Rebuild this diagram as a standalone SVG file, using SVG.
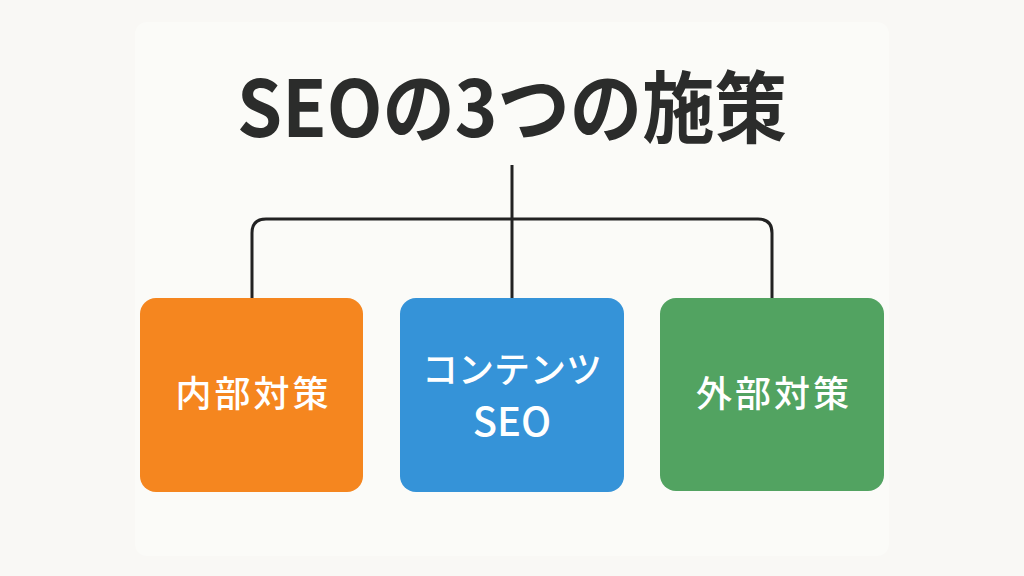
<svg xmlns="http://www.w3.org/2000/svg" width="1024" height="576" viewBox="0 0 1024 576">
<style>
.title{font-family:"Noto Sans CJK JP","Noto Sans",sans-serif;font-weight:700;font-size:78px;fill:#2b2c2b}
.lbl{font-family:"Noto Sans CJK JP","Noto Sans",sans-serif;font-weight:500;font-size:36px;fill:#ffffff}
.lbl.big{font-size:40px}
.conn{fill:none;stroke:#222222;stroke-width:3;stroke-linejoin:round}
</style>
<rect x="0" y="0" width="1024" height="576" fill="#f9f8f5"/>
<rect x="135" y="22" width="754" height="534" rx="12" fill="#fbfbf8"/>
<g id="title"><text class="title" x="512" y="137" text-anchor="middle" textLength="550" lengthAdjust="spacingAndGlyphs">SEOの3つの施策</text></g>
<g id="connectors">
<path class="conn" d="M512 165 V298"/>
<path class="conn" d="M252 298 V233 Q252 219 266 219 H758 Q772 219 772 233 V298"/>
</g>
<g id="node-internal">
<rect x="140" y="298" width="223" height="194" rx="16" fill="#f5861f"/>
<text class="lbl" x="253.5" y="407" text-anchor="middle" letter-spacing="3">内部対策</text>
</g>
<g id="node-content">
<rect x="400" y="298" width="224" height="194" rx="16" fill="#3593d8"/>
<text class="lbl" x="512" y="383" text-anchor="middle">コンテンツ</text>
<text class="lbl big" x="512" y="436" text-anchor="middle">SEO</text>
</g>
<g id="node-external">
<rect x="660" y="298" width="224" height="193" rx="16" fill="#52a361"/>
<text class="lbl" x="774" y="407" text-anchor="middle" letter-spacing="3">外部対策</text>
</g>
</svg>
